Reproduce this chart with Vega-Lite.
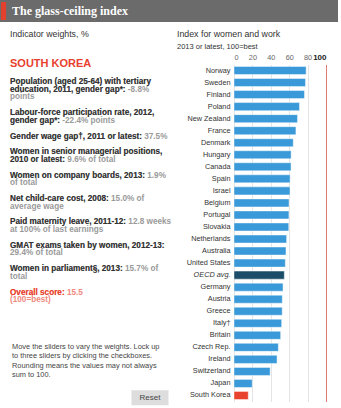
{
  "$schema": "https://vega.github.io/schema/vega-lite/v6.json",
  "padding": 0,
  "background": "white",
  "spacing": 7.5,
  "config": {
    "view": {"stroke": null},
    "font": "Liberation Sans",
    "title": {"font": "Liberation Sans", "subtitleFont": "Liberation Sans"},
    "axis": {"labelFont": "Liberation Sans"},
    "text": {"font": "Liberation Sans"}
  },
  "datasets": {
    "bars": [
      {"country": "Norway", "score": 78.4, "group": "country"},
      {"country": "Sweden", "score": 77.7, "group": "country"},
      {"country": "Finland", "score": 76.6, "group": "country"},
      {"country": "Poland", "score": 71.2, "group": "country"},
      {"country": "New Zealand", "score": 69.0, "group": "country"},
      {"country": "France", "score": 67.3, "group": "country"},
      {"country": "Denmark", "score": 64.4, "group": "country"},
      {"country": "Hungary", "score": 62.1, "group": "country"},
      {"country": "Canada", "score": 62.0, "group": "country"},
      {"country": "Spain", "score": 61.0, "group": "country"},
      {"country": "Israel", "score": 60.9, "group": "country"},
      {"country": "Belgium", "score": 59.8, "group": "country"},
      {"country": "Portugal", "score": 59.7, "group": "country"},
      {"country": "Slovakia", "score": 59.5, "group": "country"},
      {"country": "Netherlands", "score": 57.2, "group": "country"},
      {"country": "Australia", "score": 56.5, "group": "country"},
      {"country": "United States", "score": 55.8, "group": "country"},
      {"country": "OECD avg.", "score": 54.7, "group": "average"},
      {"country": "Germany", "score": 53.3, "group": "country"},
      {"country": "Austria", "score": 52.5, "group": "country"},
      {"country": "Greece", "score": 52.4, "group": "country"},
      {"country": "Italy†", "score": 51.8, "group": "country"},
      {"country": "Britain", "score": 50.7, "group": "country"},
      {"country": "Czech Rep.", "score": 48.2, "group": "country"},
      {"country": "Ireland", "score": 46.8, "group": "country"},
      {"country": "Switzerland", "score": 39.3, "group": "country"},
      {"country": "Japan", "score": 19.8, "group": "country"},
      {"country": "South Korea", "score": 15.5, "group": "selected"}
    ],
    "indicators": [
      {"key": "tertiary", "type": "indicator", "full": ["Population (aged 25-64) with tertiary", "education, 2011, gender gap*: -8.8%", "points"], "label": ["Population (aged 25-64) with tertiary", "education, 2011, gender gap*:", ""]},
      {"key": "labour", "type": "indicator", "full": ["Labour-force participation rate, 2012,", "gender gap*: -22.4% points"], "label": ["Labour-force participation rate, 2012,", "gender gap*:"]},
      {"key": "wage", "type": "indicator", "full": ["Gender wage gap†, 2011 or latest: 37.5%"], "label": ["Gender wage gap†, 2011 or latest:"]},
      {"key": "managers", "type": "indicator", "full": ["Women in senior managerial positions,", "2010 or latest: 9.6% of total"], "label": ["Women in senior managerial positions,", "2010 or latest:"]},
      {"key": "boards", "type": "indicator", "full": ["Women on company boards, 2013: 1.9%", "of total"], "label": ["Women on company boards, 2013:", ""]},
      {"key": "childcare", "type": "indicator", "full": ["Net child-care cost, 2008: 15.0% of", "average wage"], "label": ["Net child-care cost, 2008:", ""]},
      {"key": "maternity", "type": "indicator", "full": ["Paid maternity leave, 2011-12: 12.8 weeks", "at 100% of last earnings"], "label": ["Paid maternity leave, 2011-12:", ""]},
      {"key": "gmat", "type": "indicator", "full": ["GMAT exams taken by women, 2012-13:", "29.4% of total"], "label": ["GMAT exams taken by women, 2012-13:", ""]},
      {"key": "parliament", "type": "indicator", "full": ["Women in parliament§, 2013: 15.7% of", "total"], "label": ["Women in parliament§, 2013:", ""]},
      {"key": "overall", "type": "overall", "full": ["Overall score: 15.5", "(100=best)"], "label": ["Overall score:", ""]}
    ],
    "footer": [
      {"part": "note", "text": ["Move the sliders to vary the weights. Lock up", "to three sliders by clicking the checkboxes.", "Rounding means the values may not always", "sum to 100."]},
      {"part": "reset", "text": "Reset"}
    ]
  },
  "vconcat": [
    {
      "width": 338,
      "height": 22,
      "view": {"fill": "#6b6b6b", "stroke": null},
      "data": {"values": [{"title": "The glass-ceiling index"}]},
      "layer": [
        {
          "mark": {"type": "rect", "color": "#e3402d"},
          "encoding": {
            "x": {"datum": 0.003, "type": "quantitative", "scale": {"domain": [0, 1]}, "axis": null},
            "x2": {"datum": 0.018},
            "y": {"datum": 0.09, "type": "quantitative", "scale": {"domain": [0, 1]}, "axis": null},
            "y2": {"datum": 0.91}
          }
        },
        {
          "mark": {"type": "text", "align": "left", "baseline": "middle", "dx": 12, "font": "Liberation Serif", "fontWeight": "bold", "fontSize": 12, "color": "white"},
          "encoding": {
            "x": {"datum": 0, "type": "quantitative", "scale": {"domain": [0, 1]}, "axis": null},
            "text": {"field": "title"}
          }
        }
      ]
    },
    {
      "spacing": 2,
      "align": "none",
      "hconcat": [
        {
          "title": {"text": "Indicator weights, %", "subtitle": "SOUTH KOREA", "anchor": "start", "frame": "group", "dx": 10, "fontSize": 8.8, "fontWeight": "normal", "color": "#333333", "subtitleColor": "#e8412f", "subtitleFontSize": 11, "subtitleFontWeight": "bold", "subtitlePadding": 19.3, "offset": -4.1},
          "spacing": 7.4,
          "bounds": "flush",
          "vconcat": [
            {"width": 175, "height": 5.65, "view": {"fill": "white", "stroke": null}, "data": {"values": []}, "mark": "point"},
            {"width": 175, "height": 23.1, "view": {"fill": "white", "stroke": null}, "data": {"name": "indicators"}, "transform": [{"filter": "datum.key == 'tertiary'"}],
             "layer": [
              {"mark": {"type": "text", "align": "left", "baseline": "line-top", "dx": 10, "fontSize": 8.2, "fontWeight": "bold", "lineHeight": 7.7, "color": "#9a9a9a"},
               "encoding": {"x": {"datum": 0, "type": "quantitative", "scale": {"domain": [0, 1]}, "axis": null}, "y": {"datum": 1, "type": "quantitative", "scale": {"domain": [0, 1]}, "axis": null}, "text": {"field": "full"}}},
              {"mark": {"type": "text", "align": "left", "baseline": "line-top", "dx": 10, "fontSize": 8.2, "fontWeight": "bold", "lineHeight": 7.7, "color": "#333333"},
               "encoding": {"x": {"datum": 0, "type": "quantitative", "scale": {"domain": [0, 1]}, "axis": null}, "y": {"datum": 1, "type": "quantitative", "scale": {"domain": [0, 1]}, "axis": null}, "text": {"field": "label"}}}
             ]},
            {"width": 175, "height": 15.4, "view": {"fill": "white", "stroke": null}, "data": {"name": "indicators"}, "transform": [{"filter": "datum.key == 'labour'"}],
             "layer": [
              {"mark": {"type": "text", "align": "left", "baseline": "line-top", "dx": 10, "fontSize": 8.2, "fontWeight": "bold", "lineHeight": 7.7, "color": "#9a9a9a"},
               "encoding": {"x": {"datum": 0, "type": "quantitative", "scale": {"domain": [0, 1]}, "axis": null}, "y": {"datum": 1, "type": "quantitative", "scale": {"domain": [0, 1]}, "axis": null}, "text": {"field": "full"}}},
              {"mark": {"type": "text", "align": "left", "baseline": "line-top", "dx": 10, "fontSize": 8.2, "fontWeight": "bold", "lineHeight": 7.7, "color": "#333333"},
               "encoding": {"x": {"datum": 0, "type": "quantitative", "scale": {"domain": [0, 1]}, "axis": null}, "y": {"datum": 1, "type": "quantitative", "scale": {"domain": [0, 1]}, "axis": null}, "text": {"field": "label"}}}
             ]},
            {"width": 175, "height": 7.7, "view": {"fill": "white", "stroke": null}, "data": {"name": "indicators"}, "transform": [{"filter": "datum.key == 'wage'"}],
             "layer": [
              {"mark": {"type": "text", "align": "left", "baseline": "line-top", "dx": 10, "fontSize": 8.2, "fontWeight": "bold", "lineHeight": 7.7, "color": "#9a9a9a"},
               "encoding": {"x": {"datum": 0, "type": "quantitative", "scale": {"domain": [0, 1]}, "axis": null}, "y": {"datum": 1, "type": "quantitative", "scale": {"domain": [0, 1]}, "axis": null}, "text": {"field": "full"}}},
              {"mark": {"type": "text", "align": "left", "baseline": "line-top", "dx": 10, "fontSize": 8.2, "fontWeight": "bold", "lineHeight": 7.7, "color": "#333333"},
               "encoding": {"x": {"datum": 0, "type": "quantitative", "scale": {"domain": [0, 1]}, "axis": null}, "y": {"datum": 1, "type": "quantitative", "scale": {"domain": [0, 1]}, "axis": null}, "text": {"field": "label"}}}
             ]},
            {"width": 175, "height": 15.4, "view": {"fill": "white", "stroke": null}, "data": {"name": "indicators"}, "transform": [{"filter": "datum.key == 'managers'"}],
             "layer": [
              {"mark": {"type": "text", "align": "left", "baseline": "line-top", "dx": 10, "fontSize": 8.2, "fontWeight": "bold", "lineHeight": 7.7, "color": "#9a9a9a"},
               "encoding": {"x": {"datum": 0, "type": "quantitative", "scale": {"domain": [0, 1]}, "axis": null}, "y": {"datum": 1, "type": "quantitative", "scale": {"domain": [0, 1]}, "axis": null}, "text": {"field": "full"}}},
              {"mark": {"type": "text", "align": "left", "baseline": "line-top", "dx": 10, "fontSize": 8.2, "fontWeight": "bold", "lineHeight": 7.7, "color": "#333333"},
               "encoding": {"x": {"datum": 0, "type": "quantitative", "scale": {"domain": [0, 1]}, "axis": null}, "y": {"datum": 1, "type": "quantitative", "scale": {"domain": [0, 1]}, "axis": null}, "text": {"field": "label"}}}
             ]},
            {"width": 175, "height": 15.4, "view": {"fill": "white", "stroke": null}, "data": {"name": "indicators"}, "transform": [{"filter": "datum.key == 'boards'"}],
             "layer": [
              {"mark": {"type": "text", "align": "left", "baseline": "line-top", "dx": 10, "fontSize": 8.2, "fontWeight": "bold", "lineHeight": 7.7, "color": "#9a9a9a"},
               "encoding": {"x": {"datum": 0, "type": "quantitative", "scale": {"domain": [0, 1]}, "axis": null}, "y": {"datum": 1, "type": "quantitative", "scale": {"domain": [0, 1]}, "axis": null}, "text": {"field": "full"}}},
              {"mark": {"type": "text", "align": "left", "baseline": "line-top", "dx": 10, "fontSize": 8.2, "fontWeight": "bold", "lineHeight": 7.7, "color": "#333333"},
               "encoding": {"x": {"datum": 0, "type": "quantitative", "scale": {"domain": [0, 1]}, "axis": null}, "y": {"datum": 1, "type": "quantitative", "scale": {"domain": [0, 1]}, "axis": null}, "text": {"field": "label"}}}
             ]},
            {"width": 175, "height": 15.4, "view": {"fill": "white", "stroke": null}, "data": {"name": "indicators"}, "transform": [{"filter": "datum.key == 'childcare'"}],
             "layer": [
              {"mark": {"type": "text", "align": "left", "baseline": "line-top", "dx": 10, "fontSize": 8.2, "fontWeight": "bold", "lineHeight": 7.7, "color": "#9a9a9a"},
               "encoding": {"x": {"datum": 0, "type": "quantitative", "scale": {"domain": [0, 1]}, "axis": null}, "y": {"datum": 1, "type": "quantitative", "scale": {"domain": [0, 1]}, "axis": null}, "text": {"field": "full"}}},
              {"mark": {"type": "text", "align": "left", "baseline": "line-top", "dx": 10, "fontSize": 8.2, "fontWeight": "bold", "lineHeight": 7.7, "color": "#333333"},
               "encoding": {"x": {"datum": 0, "type": "quantitative", "scale": {"domain": [0, 1]}, "axis": null}, "y": {"datum": 1, "type": "quantitative", "scale": {"domain": [0, 1]}, "axis": null}, "text": {"field": "label"}}}
             ]},
            {"width": 175, "height": 15.4, "view": {"fill": "white", "stroke": null}, "data": {"name": "indicators"}, "transform": [{"filter": "datum.key == 'maternity'"}],
             "layer": [
              {"mark": {"type": "text", "align": "left", "baseline": "line-top", "dx": 10, "fontSize": 8.2, "fontWeight": "bold", "lineHeight": 7.7, "color": "#9a9a9a"},
               "encoding": {"x": {"datum": 0, "type": "quantitative", "scale": {"domain": [0, 1]}, "axis": null}, "y": {"datum": 1, "type": "quantitative", "scale": {"domain": [0, 1]}, "axis": null}, "text": {"field": "full"}}},
              {"mark": {"type": "text", "align": "left", "baseline": "line-top", "dx": 10, "fontSize": 8.2, "fontWeight": "bold", "lineHeight": 7.7, "color": "#333333"},
               "encoding": {"x": {"datum": 0, "type": "quantitative", "scale": {"domain": [0, 1]}, "axis": null}, "y": {"datum": 1, "type": "quantitative", "scale": {"domain": [0, 1]}, "axis": null}, "text": {"field": "label"}}}
             ]},
            {"width": 175, "height": 15.4, "view": {"fill": "white", "stroke": null}, "data": {"name": "indicators"}, "transform": [{"filter": "datum.key == 'gmat'"}],
             "layer": [
              {"mark": {"type": "text", "align": "left", "baseline": "line-top", "dx": 10, "fontSize": 8.2, "fontWeight": "bold", "lineHeight": 7.7, "color": "#9a9a9a"},
               "encoding": {"x": {"datum": 0, "type": "quantitative", "scale": {"domain": [0, 1]}, "axis": null}, "y": {"datum": 1, "type": "quantitative", "scale": {"domain": [0, 1]}, "axis": null}, "text": {"field": "full"}}},
              {"mark": {"type": "text", "align": "left", "baseline": "line-top", "dx": 10, "fontSize": 8.2, "fontWeight": "bold", "lineHeight": 7.7, "color": "#333333"},
               "encoding": {"x": {"datum": 0, "type": "quantitative", "scale": {"domain": [0, 1]}, "axis": null}, "y": {"datum": 1, "type": "quantitative", "scale": {"domain": [0, 1]}, "axis": null}, "text": {"field": "label"}}}
             ]},
            {"width": 175, "height": 15.4, "view": {"fill": "white", "stroke": null}, "data": {"name": "indicators"}, "transform": [{"filter": "datum.key == 'parliament'"}],
             "layer": [
              {"mark": {"type": "text", "align": "left", "baseline": "line-top", "dx": 10, "fontSize": 8.2, "fontWeight": "bold", "lineHeight": 7.7, "color": "#9a9a9a"},
               "encoding": {"x": {"datum": 0, "type": "quantitative", "scale": {"domain": [0, 1]}, "axis": null}, "y": {"datum": 1, "type": "quantitative", "scale": {"domain": [0, 1]}, "axis": null}, "text": {"field": "full"}}},
              {"mark": {"type": "text", "align": "left", "baseline": "line-top", "dx": 10, "fontSize": 8.2, "fontWeight": "bold", "lineHeight": 7.7, "color": "#333333"},
               "encoding": {"x": {"datum": 0, "type": "quantitative", "scale": {"domain": [0, 1]}, "axis": null}, "y": {"datum": 1, "type": "quantitative", "scale": {"domain": [0, 1]}, "axis": null}, "text": {"field": "label"}}}
             ]},
            {"width": 175, "height": 15.4, "view": {"fill": "white", "stroke": null}, "data": {"name": "indicators"}, "transform": [{"filter": "datum.key == 'overall'"}],
             "layer": [
              {"mark": {"type": "text", "align": "left", "baseline": "line-top", "dx": 10, "fontSize": 8.2, "fontWeight": "bold", "lineHeight": 7.7, "color": "#f08a7e"},
               "encoding": {"x": {"datum": 0, "type": "quantitative", "scale": {"domain": [0, 1]}, "axis": null}, "y": {"datum": 1, "type": "quantitative", "scale": {"domain": [0, 1]}, "axis": null}, "text": {"field": "full"}}},
              {"mark": {"type": "text", "align": "left", "baseline": "line-top", "dx": 10, "fontSize": 8.2, "fontWeight": "bold", "lineHeight": 7.7, "color": "#e8412f"},
               "encoding": {"x": {"datum": 0, "type": "quantitative", "scale": {"domain": [0, 1]}, "axis": null}, "y": {"datum": 1, "type": "quantitative", "scale": {"domain": [0, 1]}, "axis": null}, "text": {"field": "label"}}}
             ]},
            {"width": 175, "height": 98, "view": {"fill": "white", "stroke": null}, "data": {"name": "footer"},
             "layer": [
              {"transform": [{"filter": "datum.part == 'note'"}],
               "mark": {"type": "text", "align": "left", "baseline": "line-top", "dx": 12, "fontSize": 7.4, "lineHeight": 9.3, "color": "#444444"},
               "encoding": {
                 "x": {"datum": 0, "type": "quantitative", "scale": {"domain": [0, 1]}, "axis": null},
                 "y": {"field": "part", "type": "nominal", "scale": {"type": "point", "domain": ["note", "reset"], "range": [30.3, 85.75], "padding": 0}, "axis": null},
                 "text": {"field": "text"}}},
              {"transform": [{"filter": "datum.part == 'reset'"}],
               "mark": {"type": "point", "shape": "M-2.47,-1H2.47V1H-2.47Z", "size": 225, "filled": true, "color": "#dddddd", "opacity": 1},
               "encoding": {
                 "x": {"datum": 0.857, "type": "quantitative", "scale": {"domain": [0, 1]}, "axis": null},
                 "y": {"field": "part", "type": "nominal", "scale": {"type": "point", "domain": ["note", "reset"], "range": [30.3, 85.75], "padding": 0}, "axis": null}}},
              {"transform": [{"filter": "datum.part == 'reset'"}],
               "mark": {"type": "text", "align": "center", "baseline": "middle", "fontSize": 8, "color": "#444444"},
               "encoding": {
                 "x": {"datum": 0.857, "type": "quantitative", "scale": {"domain": [0, 1]}, "axis": null},
                 "y": {"field": "part", "type": "nominal", "scale": {"type": "point", "domain": ["note", "reset"], "range": [30.3, 85.75], "padding": 0}, "axis": null},
                 "text": {"field": "text"}}}
             ]}
          ]
        },
        {
          "width": 92,
          "height": 337,
          "data": {"name": "bars"},
          "title": {"text": "Index for women and work", "subtitle": "2013 or latest, 100=best", "anchor": "start", "frame": "group", "dx": -57, "fontSize": 8.8, "fontWeight": "normal", "color": "#333333", "subtitleColor": "#333333", "subtitleFontSize": 7.5, "subtitlePadding": 4.4, "offset": 2.9},
          "mark": {"type": "bar", "stroke": "white", "strokeOpacity": 0.45, "strokeWidth": 1},
          "encoding": {
            "y": {
              "field": "country", "type": "nominal", "sort": null,
              "scale": {"paddingInner": 0.33, "paddingOuter": 0.165},
              "axis": {"title": null, "domain": false, "ticks": false, "labelPadding": 4, "labelFontSize": 7.3, "labelColor": "#333333",
                "labelFontStyle": {"condition": {"test": "datum.value == 'OECD avg.'", "value": "italic"}, "value": "normal"}}
            },
            "x": {
              "field": "score", "type": "quantitative",
              "scale": {"domain": [0, 100], "nice": false},
              "axis": {"orient": "top", "title": null, "values": [0, 20, 40, 60, 80, 100], "domain": false, "ticks": false, "labelPadding": 3.4,
                "labelFontSize": {"condition": {"test": "datum.value == 100", "value": 8}, "value": 7.3},
                "labelFontWeight": {"condition": {"test": "datum.value == 100", "value": "bold"}, "value": "normal"},
                "labelColor": {"condition": {"test": "datum.value == 100", "value": "#222222"}, "value": "#666666"},
                "gridColor": {"condition": {"test": "datum.value == 100", "value": "#e07b74"}, "value": "#e4e4e4"},
                "gridWidth": 1}
            },
            "color": {"field": "group", "type": "nominal", "scale": {"domain": ["country", "average", "selected"], "range": ["#3a9ad9", "#1c4d68", "#e8432e"]}, "legend": null}
          }
        }
      ]
    }
  ]
}
